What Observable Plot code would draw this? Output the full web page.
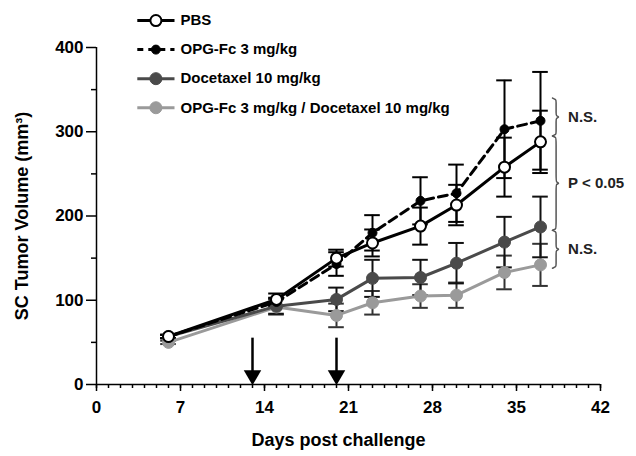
<!DOCTYPE html>
<html>
<head>
<meta charset="utf-8">
<script src="https://cdn.jsdelivr.net/npm/d3@7"></script>
<script src="https://cdn.jsdelivr.net/npm/@observablehq/plot@0.6"></script>
<style>
  html, body { margin: 0; padding: 0; background: #fff; }
  #chart { width: 636px; height: 456px; }
</style>
</head>
<body>
<div id="chart"></div>
<script>
// ---- data ----
const days = [6, 15, 20, 23, 27, 30, 34, 37];
const pbs      = [57, 101, 150, 168, 188, 213, 258, 288];
const pbsErr   = [2, 7, 10, 16, 22, 24, 35, 37];
const opg      = [57, 98, 143, 180, 218, 227, 303, 313];
const opgErr   = [2, 5, 14, 21, 28, 34, 58, 58];
const doc      = [57, 93, 101, 126, 127, 144, 169, 187];
const docErr   = [2, 9, 14, 22, 21, 24, 30, 36];
const combo    = [50, 92, 82, 97, 105, 106, 133, 142];
const comboErr = [2, 9, 14, 14, 14, 15, 20, 25];

const seriesNames = ["PBS", "OPG-Fc 3 mg/kg", "Docetaxel 10 mg/kg", "OPG-Fc 3 mg/kg / Docetaxel 10 mg/kg"];
const xMajorTicks = [0, 7, 14, 21, 28, 35, 42];
const xMinorTicks = d3.range(0, 43, 1);
const yMajorTicks = [0, 100, 200, 300, 400];
const yMinorTicks = [50, 150, 250, 350];
const arrowDays = [13, 20];
const sigLabels = ["N.S.", "P < 0.05", "N.S."];
const sigLow  = [295, 183, 138];
const sigHigh = [340, 295, 183];
const xTitle = "Days post challenge";
const yTitle = "SC Tumor Volume (mm\u00B3)";

// ---- styles ----
const styles = [
  {vals: pbs,   errs: pbsErr,   color: "#000", dash: null,  fill: "#fff", stroke: "#000", r: 5.5, sw: 2, ec: "#000"},
  {vals: opg,   errs: opgErr,   color: "#000", dash: "9,5", fill: "#000", stroke: "#000", r: 4.5, sw: 1, ec: "#000"},
  {vals: doc,   errs: docErr,   color: "#4a4a4a", dash: null, fill: "#4a4a4a", stroke: "#4a4a4a", r: 6, sw: 1, ec: "#111"},
  {vals: combo, errs: comboErr, color: "#9a9a9a", dash: null, fill: "#9a9a9a", stroke: "#9a9a9a", r: 6, sw: 1, ec: "#333"}
];

const rows = (vals, errs) => days.map((d, i) => ({x: d, y: vals[i], e: errs[i]}));

const marks = [];
const capW = 0.65;

// error bars
[3, 2, 1, 0].forEach(k => {
  const s = styles[k], data = rows(s.vals, s.errs);
  marks.push(
    Plot.ruleX(data, {x: "x", y1: d => d.y - d.e, y2: d => d.y + d.e, stroke: s.ec, strokeWidth: 2}),
    Plot.ruleY(data, {y: d => d.y + d.e, x1: d => d.x - capW, x2: d => d.x + capW, stroke: s.ec, strokeWidth: 2}),
    Plot.ruleY(data, {y: d => d.y - d.e, x1: d => d.x - capW, x2: d => d.x + capW, stroke: s.ec, strokeWidth: 2})
  );
});
// lines and dots
[3, 2, 1, 0].forEach(k => {
  const s = styles[k], data = rows(s.vals, s.errs);
  marks.push(
    Plot.line(data, {x: "x", y: "y", stroke: s.color, strokeWidth: 3, strokeDasharray: s.dash}),
    Plot.dot(data, {x: "x", y: "y", r: s.r, fill: s.fill, stroke: s.stroke, strokeWidth: s.sw})
  );
});

// legend (inside svg, above plot)
const legendY = i => 432 - i * 34.5;
styles.forEach((s, i) => {
  marks.push(
    Plot.link([0], {x1: 3.4, x2: 6.5, y1: legendY(i), y2: legendY(i), stroke: s.color, strokeWidth: 3, strokeDasharray: s.dash ? "6,5" : null}),
    Plot.dot([0], {x: 4.95, y: legendY(i), r: s.r, fill: s.fill, stroke: s.stroke, strokeWidth: s.sw})
  );
});
marks.push(Plot.text(seriesNames, {x: 7.0, y: (d, i) => legendY(i), textAnchor: "start", fontSize: 15, fill: "#000"}));

// significance braces
sigLabels.forEach((lab, i) => {
  const lo = sigLow[i], hi = sigHigh[i], mid = (lo + hi) / 2;
  const pts = [
    {x: 38.0, y: hi}, {x: 38.3, y: hi - 2}, {x: 38.3, y: hi - 3}, {x: 38.3, y: mid + 3},
    {x: 38.3, y: mid + 1.5}, {x: 38.6, y: mid}, {x: 38.3, y: mid - 1.5},
    {x: 38.3, y: mid - 3}, {x: 38.3, y: lo + 3}, {x: 38.3, y: lo + 2}, {x: 38.0, y: lo}
  ];
  marks.push(Plot.line(pts, {x: "x", y: "y", stroke: "#555", strokeWidth: 1.5, curve: "basis"}));
});
marks.push(Plot.text(sigLabels, {x: 39.3, y: (d, i) => (sigLow[i] + sigHigh[i]) / 2, textAnchor: "start", fontSize: 15, fill: "#222"}));

// treatment arrows
marks.push(
  Plot.ruleX(arrowDays, {x: d => d, y1: 55, y2: 14, stroke: "#000", strokeWidth: 2.5}),
  Plot.dot(arrowDays, {x: d => d, y: 11, symbol: "triangle", r: 6.5, fill: "#000", rotate: 180})
);

// axes
marks.push(
  Plot.axisY(yMajorTicks, {tickSize: 10, tickPadding: 3, fontSize: 17, label: null, strokeWidth: 1.5}),
  Plot.axisY(yMinorTicks, {tickSize: 5, tickFormat: () => "", label: null, strokeWidth: 1.5}),
  Plot.axisX(xMajorTicks, {tickSize: 7, tickPadding: 9, fontSize: 17, label: null, strokeWidth: 1.5}),
  Plot.axisX(xMinorTicks, {tickSize: 4, tickFormat: () => "", label: null, strokeWidth: 1.5}),
  Plot.ruleX([0], {y1: 0, y2: 400, stroke: "#000", strokeWidth: 1.5}),
  Plot.ruleY([0], {x1: 0, x2: 42, stroke: "#000", strokeWidth: 1.5}),
  Plot.text([yTitle], {frameAnchor: "left", textAnchor: "middle", dx: -74, rotate: -90, fontSize: 18, fill: "#000"}),
  Plot.text([xTitle], {frameAnchor: "bottom", textAnchor: "middle", dy: 61, dx: -10, fontSize: 18, fill: "#000"})
);

const chart = Plot.plot({
  width: 636,
  height: 456,
  marginLeft: 96,
  marginRight: 36,
  marginTop: 47,
  marginBottom: 72,
  x: {domain: [0, 42], axis: null},
  y: {domain: [0, 400], axis: null},
  style: {fontFamily: "'Liberation Sans', Arial, Helvetica, sans-serif", fontWeight: "bold", color: "#000", background: "#fff", overflow: "visible"},
  marks
});
document.getElementById("chart").appendChild(chart);
</script>
</body>
</html>
